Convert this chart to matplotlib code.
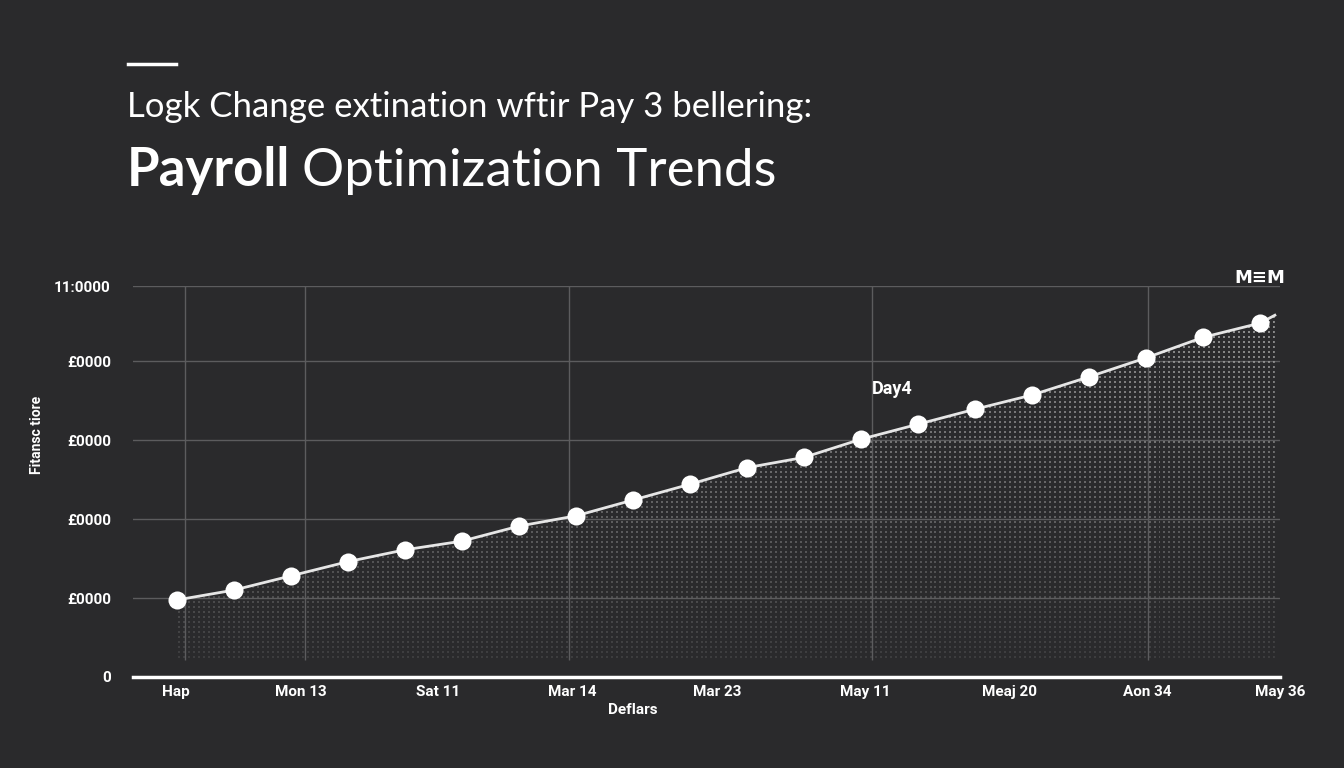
import numpy as np
import matplotlib
matplotlib.use('Agg')
import matplotlib.pyplot as plt

# data (dollars)
values = [19500, 22000, 25600, 29200, 32200, 34400, 38200, 40800, 44800, 48800,
          53000, 55600, 60200, 64000, 67800, 71400, 76000, 80800, 86000, 89600]
tail_value = 91600          # line runs on a little past the last point

xtick_pos = [-0.02, 2.17, 4.58, 6.93, 9.47, 12.07, 14.6, 17.03, 19.35]
xtick_labels = ['Hap', 'Mon 13', 'Sat 11', 'Mar 14', 'Mar 23', 'May 11', 'Meaj 20', 'Aon 34', 'May 36']
ytick_pos = [0, 20000, 40000, 60000, 80000, 99000]
ytick_labels = ['0', '£0000', '£0000', '£0000', '£0000', '11:0000']
vgrid_pos = [0.14, 2.25, 6.88, 12.19, 17.03]

bg = '#2a2a2c'
grid_col = '#5c5c5e'

fig = plt.figure(figsize=(13.44, 7.68), dpi=100, facecolor=bg)
ax = fig.add_axes([133 / 1344, 1 - 677 / 768, (1280 - 133) / 1344, (677 - 286) / 768])
ax.set_facecolor(bg)

x = np.arange(len(values))
x_line = np.append(x, 19.26)
y_line = np.append(values, tail_value)

xmin, xmax = -0.768, 19.26
ymin, ymax = 0, 99000
ax.set_xlim(xmin, xmax)
ax.set_ylim(ymin, ymax)

# grid
for yv in ytick_pos[1:]:
    ax.axhline(yv, color=grid_col, lw=1, zorder=1)
ax.vlines(vgrid_pos, 4300, ymax, color=grid_col, lw=1, zorder=1)
ax.axhline(0, color='white', lw=2.5, zorder=3, clip_on=False)

# halftone fill under the line, fading downward
fill = ax.fill_between(x_line, y_line, 4300, facecolor='none', edgecolor='none', zorder=2)
H, W = 391, 1147
ii, jj = np.mgrid[0:H, 0:W]
dots = ((ii % 5) < 2) & ((jj % 5) < 2)
img = np.zeros((H, W, 4))
img[..., :3] = 0.66
fade = np.linspace(0.85, 0.12, H)[:, None]
img[..., 3] = dots * fade
im = ax.imshow(img, extent=[xmin, xmax, ymin, ymax], origin='upper', aspect='auto',
               interpolation='nearest', zorder=2)
im.set_clip_path(fill.get_paths()[0], transform=ax.transData)

# line and markers
ax.plot(x_line, y_line, color='#e6e6e6', lw=2, zorder=4)
ax.plot(x, values, 'o', color='white', markersize=13, markeredgewidth=0, zorder=5)

for s in ax.spines.values():
    s.set_visible(False)
ax.set_xticks(xtick_pos)
ax.set_xticklabels(xtick_labels)
ax.set_yticks(ytick_pos)
ax.set_yticklabels(ytick_labels)
ax.tick_params(length=0, colors='white', labelsize=11, pad=6)
ax.tick_params(axis='y', pad=16)
for t in ax.get_xticklabels() + ax.get_yticklabels():
    t.set_fontweight('bold')
    t.set_family('Roboto')

# annotations
ax.text(12.55, 3.65 * 20000, 'Day4', color='white', fontsize=13, fontweight='bold',
        ha='center', va='center', family='Roboto', zorder=6)
ax.text(19.0, 101000, 'M≡M', color='white', fontsize=13, fontweight='bold',
        ha='center', va='center', family='DejaVu Sans', clip_on=False)

fig.text(633 / 1344, 1 - 710 / 768, 'Deflars', color='white', fontsize=11,
         fontweight='bold', ha='center', va='center', family='Roboto')
fig.text(37 / 1344, 1 - 435 / 768, 'Fitansc tiore', color='white', fontsize=10,
         fontweight='bold', ha='center', va='center', rotation=90, family='Roboto')

# header
fig.add_artist(plt.Line2D([128 / 1344, 176 / 1344], [1 - 64 / 768, 1 - 64 / 768],
                          color='white', lw=2.5))
fig.text(127 / 1344, 1 - 117 / 768, 'Logk Change extination wftir Pay 3 bellering:',
         color='white', fontsize=25, family='Lato', ha='left', va='baseline')
t1 = fig.text(127 / 1344, 1 - 186 / 768, 'Payroll', color='white', fontsize=38,
              fontweight='bold', family='Lato', ha='left', va='baseline')
fig.canvas.draw()
bb = t1.get_window_extent(renderer=fig.canvas.get_renderer())
fig.text(bb.x1 / 1344 + 12 / 1344, 1 - 186 / 768, 'Optimization Trends', color='white',
         fontsize=38, family='Lato', ha='left', va='baseline')

fig.savefig('out.png', dpi=100, facecolor=bg)
